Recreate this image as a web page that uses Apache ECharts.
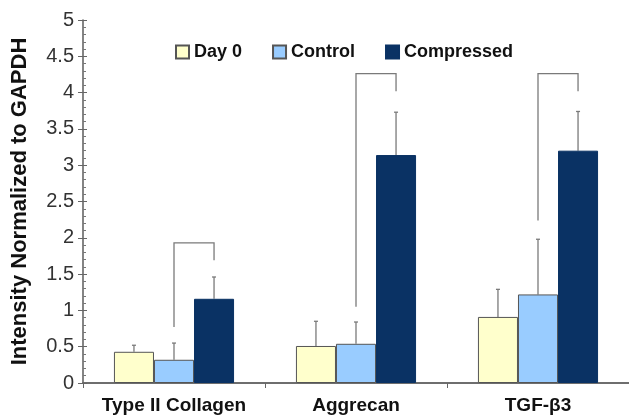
<!DOCTYPE html>
<html>
<head>
<meta charset="utf-8">
<script src="https://cdn.jsdelivr.net/npm/echarts@6/dist/echarts.min.js"></script>
<style>
html, body { margin: 0; padding: 0; background: #fff; }
#container1 { width: 629px; height: 416px; }
</style>
</head>
<body>
<div id="container1"></div>
<script>
var categories = ['Type II Collagen', 'Aggrecan', 'TGF-β3'];
var seriesNames = ['Day 0', 'Control', 'Compressed'];
var day0 = [0.43, 0.51, 0.91];
var day0Err = [0.52, 0.85, 1.29];
var control = [0.32, 0.54, 1.22];
var controlErr = [0.55, 0.84, 1.98];
var compressed = [1.16, 3.14, 3.20];
var compressedErr = [1.46, 3.73, 3.74];
// brackets: top, control leg bottom, compressed leg bottom
var bracketTop = [1.93, 4.26, 4.26];
var bracketLeft = [0.77, 1.05, 2.24];
var bracketRight = [1.69, 4.02, 4.02];
var yTicks = [0, 0.5, 1, 1.5, 2, 2.5, 3, 3.5, 4, 4.5, 5];

var dom = document.getElementById("container1");
var myChart = echarts.init(dom);

var catGap = 0.34;
function barW(api) {
    return api.size([1, 0])[0] * (1 - catGap) / 3;
}

var errData = [];
[day0Err, controlErr, compressedErr].forEach(function (arr, s) {
    arr.forEach(function (v, i) {
        var base = [day0, control, compressed][s][i];
        errData.push([i, s, base, v]);
    });
});

var bracketData = categories.map(function (c, i) {
    return [i, bracketTop[i], bracketLeft[i], bracketRight[i]];
});

var lineStyle = { stroke: '#7a7a7a', lineWidth: 1.3 };

option = {
    color: ['#ffffcc', '#99ccff', '#0a3264'],
    textStyle: { fontFamily: 'Liberation Sans, Arial, sans-serif' },
    legend: {
        data: seriesNames,
        icon: 'rect',
        top: 38,
        left: 170,
        itemGap: 30,
        itemWidth: 13,
        itemHeight: 13,
        textStyle: { fontSize: 18, fontWeight: 'bold', color: '#111' }
    },
    grid: { left: 83, right: -6, top: 20, bottom: 33 },
    xAxis: [
        {
            type: 'category',
            data: categories,
            axisLine: { lineStyle: { color: '#666', width: 1.6 } },
            axisTick: { show: true, length: 5, lineStyle: { color: '#666' } },
            axisLabel: { interval: 0, fontSize: 19, fontWeight: 'bold', color: '#111', margin: 13 }
        },
        {
            type: 'category',
            position: 'top',
            data: categories,
            axisLine: { lineStyle: { color: '#666', width: 1.6 } },
            axisTick: { show: false },
            axisLabel: { show: false }
        }
    ],
    yAxis: [
        {
            type: 'value',
            min: 0,
            max: 5,
            interval: 0.5,
            name: 'Intensity Normalized to GAPDH',
            nameLocation: 'middle',
            nameGap: 52,
            nameTextStyle: { fontSize: 22, fontWeight: 'bold', color: '#111' },
            axisLine: { show: true, lineStyle: { color: '#666', width: 1.6 } },
            axisTick: { show: true, length: 5, lineStyle: { color: '#666' } },
            axisLabel: {
                fontSize: 20,
                color: '#333',
                margin: 9,
                formatter: function (v) { return yTicks.indexOf(v) >= 0 ? String(v) : ''; }
            },
            splitLine: { show: false }
        },
        {
            type: 'value',
            min: 0,
            max: 5,
            interval: 0.5,
            position: 'left',
            axisLine: { show: false },
            axisTick: { show: true, inside: true, length: 4, lineStyle: { color: '#666' } },
            minorTick: { show: true, splitNumber: 5, length: 3, lineStyle: { color: '#777' } },
            axisLabel: { show: false },
            splitLine: { show: false }
        }
    ],
    series: [
        {
            name: 'Day 0', type: 'bar', data: day0,
            barGap: 0, barCategoryGap: '34%',
            itemStyle: { borderColor: '#555', borderWidth: 1 }
        },
        {
            name: 'Control', type: 'bar', data: control,
            barGap: 0, barCategoryGap: '34%',
            itemStyle: { borderColor: '#555', borderWidth: 1 }
        },
        {
            name: 'Compressed', type: 'bar', data: compressed,
            barGap: 0, barCategoryGap: '34%',
            itemStyle: { borderColor: '#0a3264', borderWidth: 1 }
        },
        {
            type: 'custom',
            silent: true,
            z: 1,
            data: errData,
            renderItem: function (params, api) {
                var w = barW(api);
                var base = api.coord([api.value(0), api.value(2)]);
                var top = api.coord([api.value(0), api.value(3)]);
                var x = base[0] + (api.value(1) - 1) * w;
                return {
                    type: 'group',
                    children: [
                        { type: 'line', shape: { x1: x, y1: base[1], x2: x, y2: top[1] }, style: lineStyle },
                        { type: 'line', shape: { x1: x - 2, y1: top[1], x2: x + 2, y2: top[1] }, style: lineStyle }
                    ]
                };
            }
        },
        {
            type: 'custom',
            silent: true,
            data: bracketData,
            renderItem: function (params, api) {
                var w = barW(api);
                var t = api.coord([api.value(0), api.value(1)]);
                var l = api.coord([api.value(0), api.value(2)]);
                var r = api.coord([api.value(0), api.value(3)]);
                var xl = t[0];
                var xr = t[0] + w;
                return {
                    type: 'polyline',
                    shape: { points: [[xl, l[1]], [xl, t[1]], [xr, t[1]], [xr, r[1]]] },
                    style: { stroke: '#7a7a7a', lineWidth: 1.3, fill: null }
                };
            }
        }
    ]
};

if (option && typeof option === "object") {
    myChart.setOption(option, true);
}
</script>
</body>
</html>
